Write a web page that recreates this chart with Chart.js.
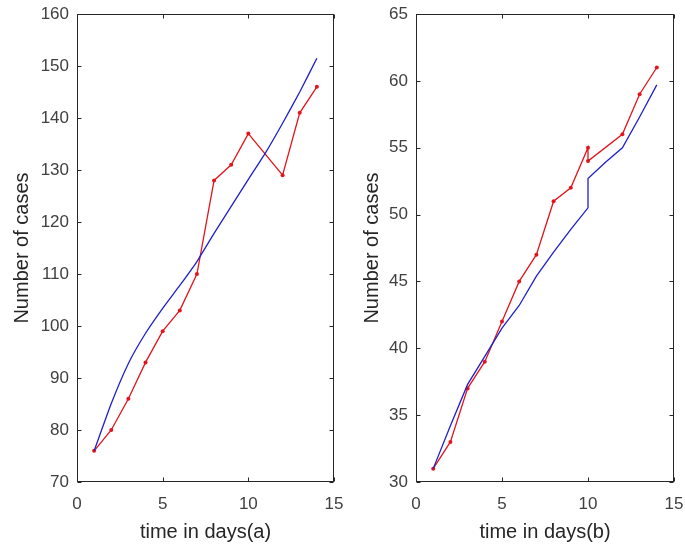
<!DOCTYPE html>
<html>
<head>
<meta charset="utf-8">
<title>Number of cases</title>
<script src="https://cdn.jsdelivr.net/npm/chart.js@4.4.1/dist/chart.umd.min.js"></script>
<style>
  html, body { margin: 0; padding: 0; background: #ffffff; }
  #wrap { position: relative; width: 685px; height: 549px; }
  .box { position: absolute; top: 0; height: 549px; }
  #boxA { left: 0; width: 350px; }
  #boxB { left: 350px; width: 335px; }
</style>
</head>
<body>
<div id="wrap">
  <div class="box" id="boxA"><canvas id="chartA"></canvas></div>
  <div class="box" id="boxB"><canvas id="chartB"></canvas></div>
</div>
<script>
// (a) observed cases and fitted curve
var daysA = [1, 2, 3, 4, 5, 6, 7, 8, 9, 10, 12, 13, 14];
var casesA = [76, 80, 86, 93, 99, 103, 110, 128, 131, 137, 129, 141, 146];
var fitDaysA = [1, 2, 3, 4, 5, 6, 7, 8, 9, 10, 11, 12, 13, 14];
var fitA = [76, 85.1, 92.8, 98.6, 103.4, 107.8, 112.4, 117.8, 123, 128.2, 133.3, 139, 145, 151.5];

// (b) observed cases and fitted curve (two readings on day 10)
var daysB = [1, 2, 3, 4, 5, 6, 7, 8, 9, 10, 10, 12, 13, 14];
var casesB = [31, 33, 37, 39, 42, 45, 47, 51, 52, 55, 54, 56, 59, 61];
var fitDaysB = [1, 2, 3, 4, 5, 6, 7, 8, 9, 10, 10, 11, 12, 13, 14];
var fitB = [31, 34.2, 37.3, 39.4, 41.5, 43.2, 45.4, 47.2, 48.9, 50.5, 52.7, 53.9, 55.0, 57.3, 59.7];

var xTicks = [0, 5, 10, 15];
var yTicksA = [70, 80, 90, 100, 110, 120, 130, 140, 150, 160];
var yTicksB = [30, 35, 40, 45, 50, 55, 60, 65];

var FONT = "'Liberation Sans', Arial, Helvetica, sans-serif";
var RED = '#e3151c';
var BLUE = '#1f1fcc';

function pairs(xs, ys) {
    return xs.map(function (x, i) { return { x: x, y: ys[i] }; });
}

// matlab style axes box with ticks pointing inward
var boxPlugin = {
    id: 'matlabBox',
    afterDraw: function (chart) {
        var ctx = chart.ctx, a = chart.chartArea;
        var sx = chart.scales.x, sy = chart.scales.y;
        var L = Math.round(a.left) + 0.5, R = Math.round(a.right) - 0.5;
        var T = Math.round(a.top) + 0.5, B = Math.round(a.bottom) - 0.5;
        ctx.save();
        ctx.strokeStyle = '#262626';
        ctx.lineWidth = 1;
        ctx.strokeRect(L, T, R - L, B - T);
        ctx.beginPath();
        sx.ticks.forEach(function (t) {
            var px = Math.round(sx.getPixelForValue(t.value)) + 0.5;
            ctx.moveTo(px, B); ctx.lineTo(px, B - 4);
            ctx.moveTo(px, T); ctx.lineTo(px, T + 4);
        });
        sy.ticks.forEach(function (t) {
            var py = Math.round(sy.getPixelForValue(t.value)) + 0.5;
            ctx.moveTo(L, py); ctx.lineTo(L + 4, py);
            ctx.moveTo(R, py); ctx.lineTo(R - 4, py);
        });
        ctx.stroke();
        ctx.restore();
    }
};

function makeChart(id, label, obsX, obsY, fitX, fitY, yTicks, yWidth, rightPad, fitTension) {
    return new Chart(document.getElementById(id), {
        type: 'line',
        data: {
            datasets: [
                {
                    label: 'fit',
                    data: pairs(fitX, fitY),
                    borderColor: BLUE,
                    borderWidth: 1.3,
                    pointRadius: 0,
                    tension: fitTension
                },
                {
                    label: 'cases',
                    data: pairs(obsX, obsY),
                    borderColor: RED,
                    backgroundColor: RED,
                    borderWidth: 1.3,
                    pointRadius: 2,
                    pointBorderWidth: 0,
                    pointBackgroundColor: RED,
                    tension: 0
                }
            ]
        },
        options: {
            responsive: true,
            maintainAspectRatio: false,
            animation: false,
            layout: { padding: { top: 14, right: rightPad, left: 0, bottom: 0 } },
            plugins: {
                legend: { display: false },
                tooltip: { enabled: false }
            },
            scales: {
                x: {
                    type: 'linear',
                    min: 0, max: 15,
                    afterBuildTicks: function (s) { s.ticks = xTicks.map(function (v) { return { value: v }; }); },
                    grid: { display: false, drawTicks: false },
                    border: { display: false },
                    ticks: { color: '#404040', padding: 12, font: { family: FONT, size: 17 } },
                    title: {
                        display: true,
                        text: label,
                        color: '#262626',
                        padding: { top: 0, bottom: 5 },
                        font: { family: FONT, size: 20 }
                    },
                    afterFit: function (s) {
                        s.height = 67;
                        s.paddingLeft = 0;
                        s.paddingRight = 0;
                    }
                },
                y: {
                    min: yTicks[0], max: yTicks[yTicks.length - 1],
                    afterBuildTicks: function (s) { s.ticks = yTicks.map(function (v) { return { value: v }; }); },
                    grid: { display: false, drawTicks: false },
                    border: { display: false },
                    ticks: { color: '#404040', padding: 8, font: { family: FONT, size: 17 } },
                    title: {
                        display: true,
                        text: 'Number of cases',
                        color: '#262626',
                        padding: { top: 10, bottom: 0 },
                        font: { family: FONT, size: 20 }
                    },
                    afterFit: function (s) {
                        s.width = yWidth;
                        s.paddingTop = 0;
                        s.paddingBottom = 0;
                    }
                }
            }
        },
        plugins: [boxPlugin]
    });
}

makeChart('chartA', 'time in days(a)', daysA, casesA, fitDaysA, fitA, yTicksA, 77, 16, 0.15);
makeChart('chartB', 'time in days(b)', daysB, casesB, fitDaysB, fitB, yTicksB, 66, 11, 0);
</script>
</body>
</html>
